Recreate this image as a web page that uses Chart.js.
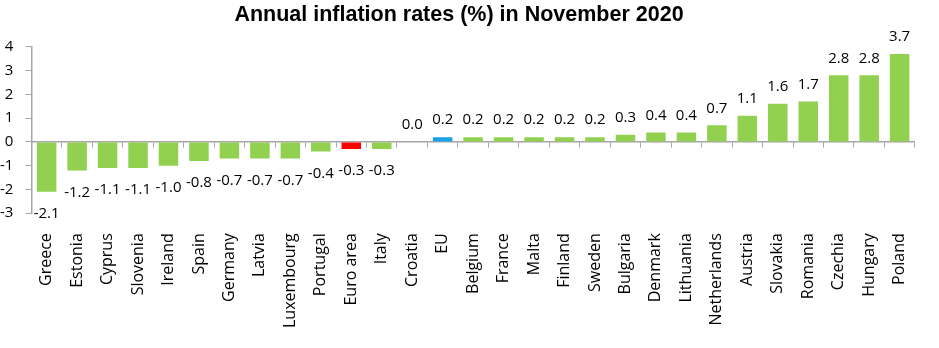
<!DOCTYPE html>
<html>
<head>
<meta charset="utf-8">
<script src="https://cdn.jsdelivr.net/npm/chart.js@4.4.0/dist/chart.umd.js"></script>
<style>
    html, body { margin: 0; padding: 0; background: #ffffff; }
    #wrap { width: 939px; height: 348px; position: relative; }
</style>
</head>
<body>
<div id="wrap"><canvas id="inflation"></canvas></div>
<script>
// HICP annual rates, November 2020
const countries = ['Greece', 'Estonia', 'Cyprus', 'Slovenia', 'Ireland', 'Spain', 'Germany', 'Latvia',
    'Luxembourg', 'Portugal', 'Euro area', 'Italy', 'Croatia', 'EU', 'Belgium', 'France', 'Malta',
    'Finland', 'Sweden', 'Bulgaria', 'Denmark', 'Lithuania', 'Netherlands', 'Austria', 'Slovakia',
    'Romania', 'Czechia', 'Hungary', 'Poland'];
const rates = [-2.1, -1.2, -1.1, -1.1, -1.0, -0.8, -0.7, -0.7, -0.7, -0.4, -0.3, -0.3, 0.0, 0.2, 0.2,
    0.2, 0.2, 0.2, 0.2, 0.3, 0.4, 0.4, 0.7, 1.1, 1.6, 1.7, 2.8, 2.8, 3.7];
const yTicks = [-3, -2, -1, 0, 1, 2, 3, 4];

const GREEN = '#92d050';
const axisGrey = '#a6a6a6';
const fontFamily = "'Open Sans', 'DejaVu Sans', sans-serif";

const barColors = countries.map(c => c === 'EU' ? '#1aa2e6' : (c === 'Euro area' ? '#ff0000' : GREEN));

// value labels above / below each bar
const valueLabels = {
    id: 'valueLabels',
    afterDatasetsDraw(chart) {
        const ctx = chart.ctx;
        const meta = chart.getDatasetMeta(0);
        ctx.save();
        ctx.font = `15px ${fontFamily}`;
        ctx.fillStyle = '#000';
        ctx.textAlign = 'center';
        ctx.textBaseline = 'middle';
        meta.data.forEach((bar, i) => {
            const v = rates[i];
            const y = v >= 0 ? bar.y - 17 : bar.y + 22;
            ctx.fillText(v.toFixed(1), bar.x, y);
        });
        ctx.restore();
    }
};

new Chart(document.getElementById('inflation'), {
    type: 'bar',
    data: {
        labels: countries,
        datasets: [{
            data: rates,
            backgroundColor: barColors,
            borderWidth: 0,
            barPercentage: 0.64,
            categoryPercentage: 1.0
        }]
    },
    plugins: [valueLabels],
    options: {
        responsive: true,
        maintainAspectRatio: false,
        animation: false,
        layout: { padding: { left: -12, right: 9, top: 0, bottom: 0 } },
        plugins: {
            legend: { display: false },
            tooltip: { enabled: false },
            title: {
                display: true,
                text: 'Annual inflation rates (%) in November 2020',
                color: '#000',
                font: { family: "'Liberation Sans', Arial, sans-serif", size: 21.5, weight: 'bold' },
                padding: { top: 2, bottom: 19 }
            }
        },
        scales: {
            x: {
                offset: true,
                grid: { display: false, drawTicks: false },
                border: { display: false },
                ticks: {
                    autoSkip: false,
                    minRotation: 90,
                    maxRotation: 90,
                    padding: 20,
                    color: '#000',
                    font: { family: fontFamily, size: 16 }
                }
            },
            // zero line with category tick marks
            x0: {
                type: 'category',
                position: { y: 0 },
                offset: true,
                grid: { offset: true, drawOnChartArea: false, drawTicks: true, tickLength: 5, color: axisGrey },
                border: { display: true, color: axisGrey, width: 1.5 },
                ticks: { display: false }
            },
            y: {
                min: -3,
                max: 4,
                afterBuildTicks(scale) {
                    scale.ticks = yTicks.map(v => ({ value: v }));
                },
                grid: { drawOnChartArea: false, drawTicks: true, tickLength: 6, color: axisGrey },
                border: { display: true, color: axisGrey, width: 1.5 },
                ticks: {
                    padding: 12,
                    color: '#000',
                    font: { family: fontFamily, size: 15 }
                }
            }
        }
    }
});
</script>
</body>
</html>
